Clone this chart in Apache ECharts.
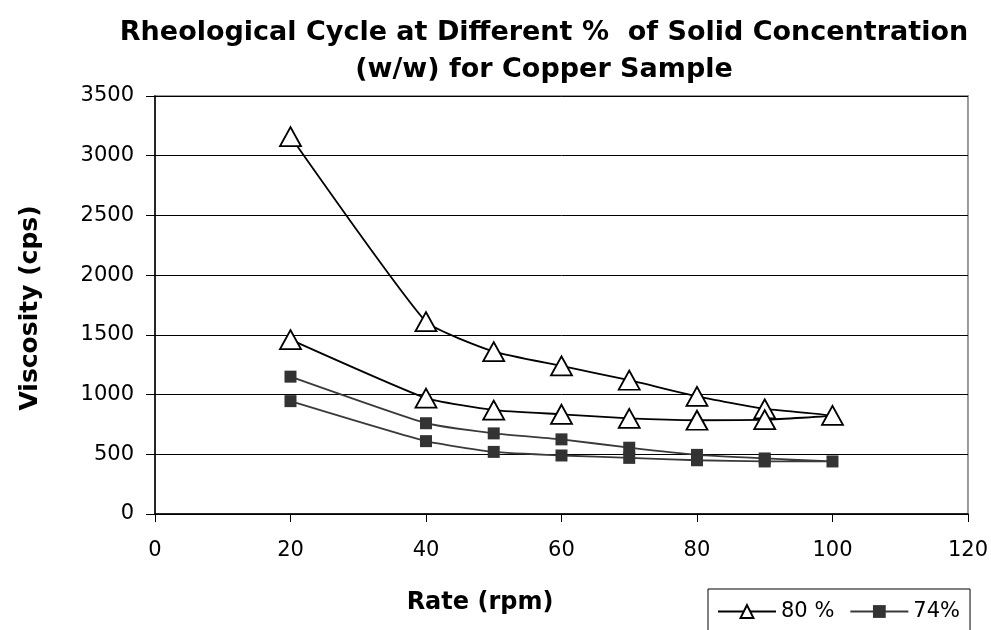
<!DOCTYPE html>
<html>
<head>
<meta charset="utf-8">
<script src="https://cdn.jsdelivr.net/npm/echarts@6/dist/echarts.min.js"></script>
<style>html,body{margin:0;padding:0;background:#fff;}#c{width:991px;height:630px;}</style>
</head>
<body>
<div id="c"></div>
<script>
// Rheological cycle: rate goes up 20→100 then back down 100→20
const rate80 = [20, 40, 50, 60, 70, 80, 90, 100, 90, 80, 70, 60, 50, 40, 20];
const visc80 = [3160, 1610, 1360, 1240, 1120, 985, 880, 825, 790, 785, 800, 835, 870, 970, 1460];
const rate74 = [20, 40, 50, 60, 70, 80, 90, 100, 90, 80, 70, 60, 50, 40, 20];
const visc74 = [1150, 760, 675, 625, 555, 495, 465, 440, 440, 450, 470, 490, 520, 610, 945];
const seriesNames = ['80 %', '74%'];
const xTicks = {min: 0, max: 120, interval: 20};
const yTicks = {min: 0, max: 3500, interval: 500};

const FONT = '"DejaVu Sans", "Liberation Sans", Arial, sans-serif';
const pairs = (xs, ys) => xs.map((x, i) => [x, ys[i]]);

const chart = echarts.init(document.getElementById('c'));
chart.setOption({
  animation: false,
  backgroundColor: '#fff',
  grid: {left: 155, right: 23, top: 96, bottom: 116, show: true, borderColor: '#999', borderWidth: 2, backgroundColor: 'transparent'},
  graphic: [
    {type: 'text', style: {text: 'Rheological Cycle at Different %  of Solid Concentration', x: 544, y: 33, textAlign: 'center', textVerticalAlign: 'middle', font: 'bold 27px ' + FONT, fill: '#000'}},
    {type: 'text', style: {text: '(w/w) for Copper Sample', x: 544, y: 70, textAlign: 'center', textVerticalAlign: 'middle', font: 'bold 27px ' + FONT, fill: '#000'}},
    {type: 'text', rotation: Math.PI / 2, x: 30, y: 308, style: {text: 'Viscosity (cps)', x: 0, y: 0, textAlign: 'center', textVerticalAlign: 'middle', font: 'bold 25px ' + FONT, fill: '#000'}},
    {type: 'text', style: {text: 'Rate (rpm)', x: 480, y: 603, textAlign: 'center', textVerticalAlign: 'middle', font: 'bold 24px ' + FONT, fill: '#000'}}
  ],
  legend: {
    left: 708, top: 589,
    padding: [12, 10, 40, 9],
    borderColor: '#000', borderWidth: 1,
    itemWidth: 58, itemHeight: 16, itemGap: 15,
    textStyle: {fontFamily: FONT, fontSize: 21, color: '#000'},
    data: seriesNames
  },
  xAxis: {
    type: 'value', min: xTicks.min, max: xTicks.max, interval: xTicks.interval,
    axisLine: {lineStyle: {color: '#000', width: 1.5}},
    axisTick: {show: true, inside: false, length: 8, lineStyle: {color: '#000', width: 1}},
    axisLabel: {margin: 26, fontFamily: FONT, fontSize: 21, color: '#000', formatter: v => String(v)},
    splitLine: {show: false}
  },
  yAxis: {
    type: 'value', min: yTicks.min, max: yTicks.max, interval: yTicks.interval,
    axisLine: {show: true, lineStyle: {color: '#000', width: 1.5}},
    axisTick: {show: true, inside: false, length: 9, lineStyle: {color: '#000', width: 1}},
    axisLabel: {margin: 21, fontFamily: FONT, fontSize: 21, color: '#000', formatter: v => String(v)},
    splitLine: {show: true, lineStyle: {color: '#000', width: 1}}
  },
  series: [
    {
      name: seriesNames[0], type: 'line', data: pairs(rate80, visc80), smooth: 0.15,
      symbol: 'triangle', symbolSize: [21, 19],
      lineStyle: {color: '#000', width: 1.8},
      itemStyle: {color: '#fff', borderColor: '#000', borderWidth: 1.8},
      z: 3
    },
    {
      name: seriesNames[1], type: 'line', data: pairs(rate74, visc74), smooth: 0.15,
      symbol: 'rect', symbolSize: 12,
      lineStyle: {color: '#3a3a3a', width: 1.8},
      itemStyle: {color: '#333', borderColor: '#333', borderWidth: 0},
      z: 2
    }
  ]
});
</script>
</body>
</html>
